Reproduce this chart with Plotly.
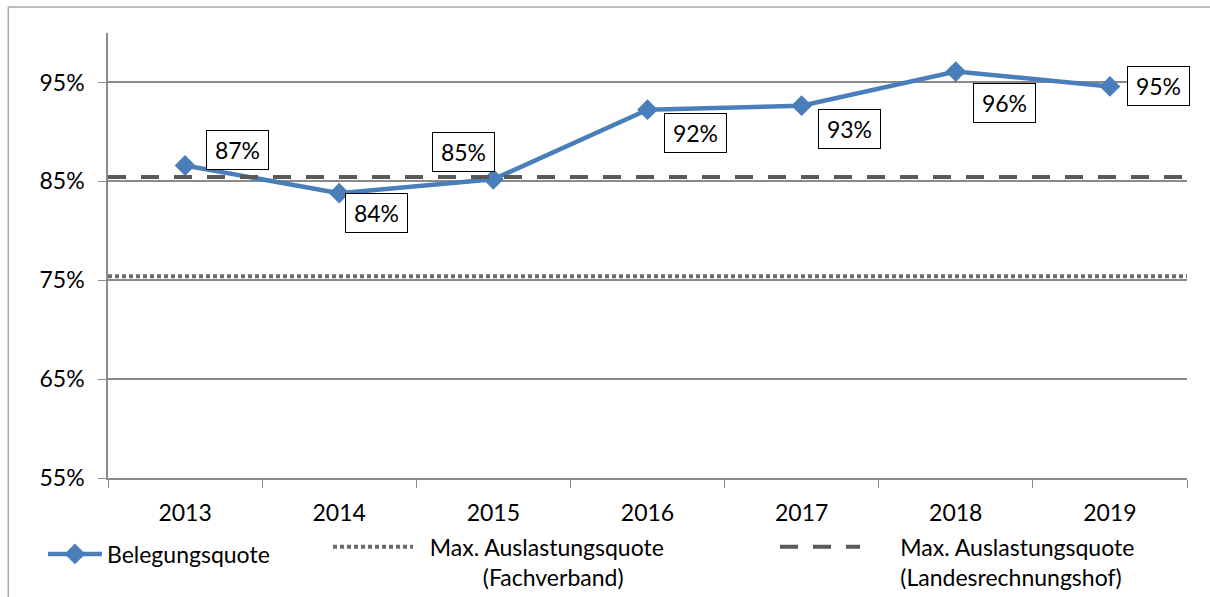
import plotly.graph_objects as go

years = ["2013", "2014", "2015", "2016", "2017", "2018", "2019"]
belegung = [86.6, 83.8, 85.2, 92.25, 92.65, 96.1, 94.6]
fachverband = 75.4
landesrechnungshof = 85.45
y_ticks = [55, 65, 75, 85, 95]
y_tick_text = ["55%", "65%", "75%", "85%", "95%"]
# label offsets (px) relative to each point: (dx, dy) - positive dy is up
label_offsets = [(52, 16), (37, -20), (-30, 27), (48, -23), (48, -23), (49, -31), (49, 0)]

FONT = "Lato"
FS = 23
BLUE = "#4a7ebb"
GRID = "#8a8a8a"
NB = "\u00a0"

fig = go.Figure()

fig.add_trace(go.Scatter(
    x=years, y=belegung, mode="lines+markers", name="Belegungsquote",
    line=dict(color=BLUE, width=4.5),
    marker=dict(symbol="diamond", size=16, color=BLUE),
    legend="legend",
))

fig.add_trace(go.Scatter(
    x=[0, 1], y=[fachverband, fachverband], mode="lines", xaxis="x2",
    name=NB * 2 + "Max. Auslastungsquote<br>" + NB * 11 + "(Fachverband)",
    line=dict(color="#6b6b6b", width=4, dash="4px,3px"),
    legend="legend2",
))

fig.add_trace(go.Scatter(
    x=[0, 1], y=[landesrechnungshof, landesrechnungshof], mode="lines", xaxis="x2",
    name=NB * 6 + "Max. Auslastungsquote<br>" + NB * 6 + "(Landesrechnungshof)",
    line=dict(color="#595959", width=4, dash="18px,15px"),
    legend="legend3",
))

for i, (v, (dx, dy)) in enumerate(zip(belegung, label_offsets)):
    fig.add_annotation(
        x=i, y=v, xref="x", yref="y", text=f"{round(v)}%", showarrow=False,
        xshift=dx, yshift=dy, font=dict(family=FONT, size=FS, color="black"),
        bgcolor="white", bordercolor="black", borderwidth=1, borderpad=6,
        width=49, height=26,
    )

fig.update_layout(
    width=1210, height=597,
    margin=dict(l=108, r=23, t=33, b=119, autoexpand=False),
    paper_bgcolor="white", plot_bgcolor="white",
    font=dict(family=FONT, size=FS, color="black"),
    showlegend=True,
    xaxis=dict(
        type="category", tickson="boundaries", ticks="outside", ticklen=8,
        tickcolor=GRID, showline=True, linecolor=GRID, linewidth=1.5,
        showgrid=False, tickfont=dict(family=FONT, size=FS),
        ticklabelstandoff=14, range=[-0.5, 6.5],
    ),
    xaxis2=dict(overlaying="x", range=[0, 1], visible=False, fixedrange=True),
    yaxis=dict(
        range=[55, 100], tickvals=y_ticks, ticktext=y_tick_text, ticks="outside",
        ticklen=8, tickcolor=GRID, showline=True, linecolor=GRID, linewidth=1.5,
        showgrid=True, gridcolor=GRID, gridwidth=1.5, zeroline=False,
        tickfont=dict(family=FONT, size=FS), ticklabelstandoff=9,
    ),
    legend=dict(xref="container", yref="container", x=0.0355, y=0.072,
                xanchor="left", yanchor="middle", orientation="h",
                font=dict(family=FONT, size=FS), itemwidth=54,
                bgcolor="rgba(0,0,0,0)"),
    legend2=dict(xref="container", yref="container", x=0.2711, y=0.0591,
                 xanchor="left", yanchor="middle", orientation="h",
                 font=dict(family=FONT, size=FS), itemwidth=80, valign="top",
                 bgcolor="rgba(0,0,0,0)"),
    legend3=dict(xref="container", yref="container", x=0.6405, y=0.0591,
                 xanchor="left", yanchor="middle", orientation="h",
                 font=dict(family=FONT, size=FS), itemwidth=80, valign="top",
                 bgcolor="rgba(0,0,0,0)"),
    shapes=[
        dict(type="line", xref="paper", yref="paper",
             x0=-0.0924, x1=-0.0924, y0=-0.5, y1=1.0584,
             line=dict(color="#a6a6a6", width=1.5), layer="below"),
        dict(type="line", xref="paper", yref="paper",
             x0=-0.0924, x1=1.0213, y0=1.0584, y1=1.0584,
             line=dict(color="#a6a6a6", width=1.5), layer="below"),
    ],
)

fig.write_html(
    "out.html",
    config={"displayModeBar": False},
    post_script="document.body.style.margin='0';document.body.style.overflow='hidden';",
)
